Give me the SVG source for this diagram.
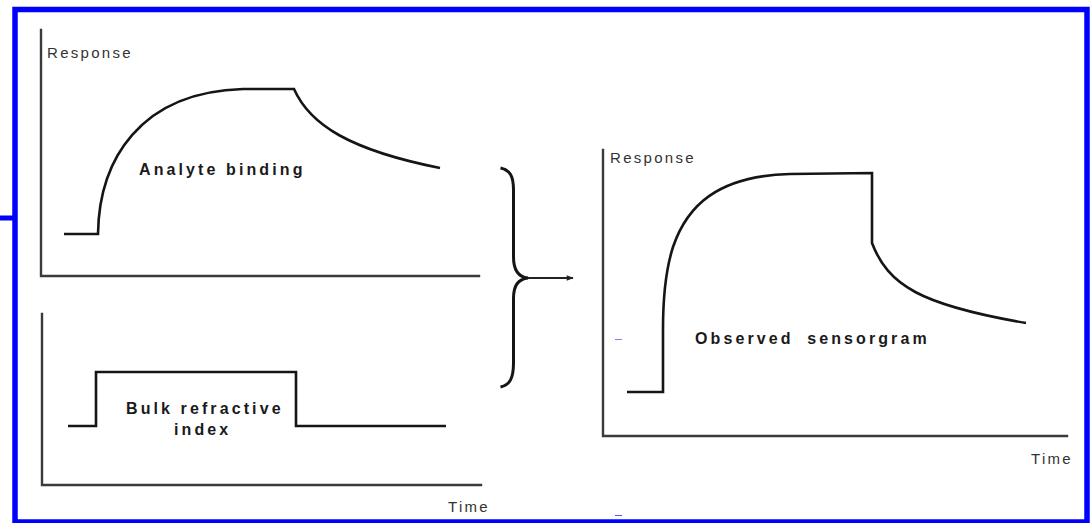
<svg xmlns="http://www.w3.org/2000/svg" width="1091" height="523" viewBox="0 0 1091 523">
<defs>
<style>
.axis{stroke:#3a3a3a;stroke-width:2.4;fill:none;stroke-linecap:square}
.curve{stroke:#151515;stroke-width:2.6;fill:none;stroke-linejoin:miter}
.ax-label{font-family:"Liberation Sans",Arial,sans-serif;font-size:15px;fill:#333;letter-spacing:2.3px}
.label{font-family:"Liberation Sans",Arial,sans-serif;font-size:16px;font-weight:bold;fill:#1a1a1a;letter-spacing:3.1px}
</style>
<marker id="arrow" viewBox="0 0 10 10" refX="9" refY="5" markerWidth="9" markerHeight="7" markerUnits="userSpaceOnUse" orient="auto">
<path d="M0,1 L10,5 L0,9 Z" fill="#222"/>
</marker>
</defs>
<rect x="0" y="0" width="1091" height="523" fill="#fff"/>
<rect x="15" y="9.5" width="1072" height="512.5" fill="none" stroke="#0000ff" stroke-width="5.5"/>
<line x1="0" y1="218" x2="15" y2="218" stroke="#0000ff" stroke-width="5"/>
<line x1="615" y1="339.5" x2="622" y2="339.5" stroke="#8080ee" stroke-width="1"/>
<line x1="615" y1="515.5" x2="622" y2="515.5" stroke="#5555ff" stroke-width="1"/>

<g id="analyte-binding">
<path class="axis" d="M41,30 L41,276 L479,276"/>
<text class="ax-label" x="47" y="58">Response</text>
<path class="curve" d="M64,234 L98,234 C99,160 140,92 243,89 L294,89 C310,125 350,150 440,168"/>
<text class="label" x="139" y="175">Analyte binding</text>
</g>

<g id="bulk-refractive-index">
<path class="axis" d="M42,314 L42,485 L481,485"/>
<path class="curve" d="M68,426 L96,426 L96,372 L296,372 L296,426 L446,426"/>
<text class="label" x="126" y="414">Bulk refractive</text>
<text class="label" x="174" y="435">index</text>
<text class="ax-label" x="448" y="512">Time</text>
</g>

<g id="observed-sensorgram">
<path class="axis" d="M603,150 L603,436 L1067,436"/>
<text class="ax-label" x="610" y="163">Response</text>
<path class="curve" d="M627,392 L663,392 L663,329 C663,300 665,272 673,247 C687,206 717,176 790,174 L872,173 L872,243 C888,285 920,305 1026,323"/>
<text class="label" x="695" y="344" letter-spacing="3.2" word-spacing="6">Observed sensorgram</text>
<text class="ax-label" x="1031" y="464">Time</text>
</g>

<g id="connectors">
<path d="M500.5,168 C510,170 513.5,176 513.5,190 L513.5,257 C513.5,270 518,277 528,278 C518,279 513.5,286 513.5,298 L513.5,363 C513.5,378 510,385 500.5,387" fill="none" stroke="#151515" stroke-width="3"/>
<line x1="528" y1="278" x2="573" y2="278" stroke="#222" stroke-width="2.2" marker-end="url(#arrow)"/>
</g>
</svg>
